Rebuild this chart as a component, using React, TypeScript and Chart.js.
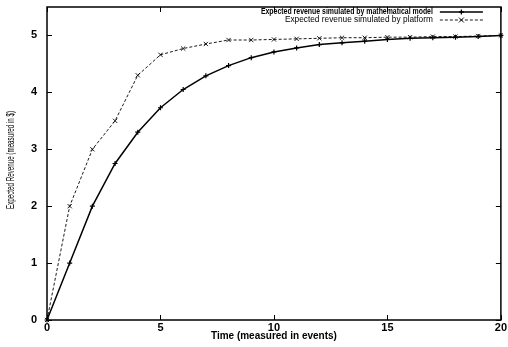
import { useEffect, useRef } from 'react';
import { Chart, registerables } from 'chart.js';

Chart.register(...registerables);

const timeSteps = [0, 1, 2, 3, 4, 5, 6, 7, 8, 9, 10, 11, 12, 13, 14, 15, 16, 17, 18, 19, 20];
const modelRevenue = [0, 1, 2, 2.75, 3.3, 3.73, 4.05, 4.29, 4.47, 4.61, 4.71, 4.78, 4.84, 4.87, 4.9, 4.93, 4.95, 4.96, 4.97, 4.98, 5.0];
const platformRevenue = [0, 2, 3, 3.5, 4.3, 4.66, 4.77, 4.85, 4.92, 4.92, 4.93, 4.94, 4.95, 4.96, 4.96, 4.97, 4.97, 4.98, 4.98, 4.99, 5.0];
const xTicks = [0, 5, 10, 15, 20];
const yTicks = [0, 1, 2, 3, 4, 5];
const seriesLabels = [
  'Expected revenue simulated by mathematical model',
  'Expected revenue simulated by platform',
];
const xTitle = 'Time (measured in events)';
const yTitle = 'Expected Revenue (measured in $)';

const FONT = "'Liberation Sans', Arial, Helvetica, sans-serif";

function fitText(ctx: any, text: string, font: string, xRight: number, y: number, width: number) {
  ctx.save();
  ctx.font = font;
  ctx.textAlign = 'right';
  ctx.textBaseline = 'middle';
  const w = ctx.measureText(text).width;
  ctx.translate(xRight, y);
  ctx.scale(width / w, 1);
  ctx.fillText(text, 0, 0);
  ctx.restore();
}

const framePlugin = {
  id: 'frameTicksLegend',
  afterDraw(chart: any) {
    const { ctx, chartArea } = chart;
    const { left, right, top, bottom } = chartArea;
    const xs = chart.scales.x;
    const ys = chart.scales.y;
    ctx.save();
    ctx.strokeStyle = '#000';
    ctx.lineWidth = 1.5;
    ctx.strokeRect(left, top, right - left, bottom - top);
    ctx.lineWidth = 1;
    const tl = 5;
    ctx.beginPath();
    xTicks.forEach((v) => {
      const px = Math.round(xs.getPixelForValue(v)) + 0.5;
      ctx.moveTo(px, bottom);
      ctx.lineTo(px, bottom - tl);
      ctx.moveTo(px, top);
      ctx.lineTo(px, top + tl);
    });
    yTicks.forEach((v) => {
      const py = Math.round(ys.getPixelForValue(v)) + 0.5;
      ctx.moveTo(left, py);
      ctx.lineTo(left + tl, py);
      ctx.moveTo(right, py);
      ctx.lineTo(right - tl, py);
    });
    ctx.stroke();

    // y-axis title (condensed along its length)
    ctx.save();
    ctx.fillStyle = '#000';
    ctx.font = `10.5px ${FONT}`;
    ctx.textAlign = 'center';
    ctx.textBaseline = 'middle';
    const w = ctx.measureText(yTitle).width;
    ctx.translate(11, 160);
    ctx.rotate(-Math.PI / 2);
    ctx.scale(98 / w, 1);
    ctx.fillText(yTitle, 0, 0);
    ctx.restore();

    // legend
    const textRight = right - 68;
    const sx0 = right - 61;
    const sx1 = right - 18;
    const mid = (sx0 + sx1) / 2;
    const rows = [top + 5, top + 13];
    ctx.fillStyle = '#000';
    fitText(ctx, seriesLabels[0], `bold 8.5px ${FONT}`, textRight, rows[0], 172);
    fitText(ctx, seriesLabels[1], `8.5px ${FONT}`, textRight, rows[1], 148);

    ctx.lineWidth = 1.3;
    ctx.beginPath();
    ctx.moveTo(sx0, rows[0]);
    ctx.lineTo(sx1, rows[0]);
    ctx.stroke();
    ctx.beginPath();
    ctx.moveTo(mid - 2.5, rows[0]);
    ctx.lineTo(mid + 2.5, rows[0]);
    ctx.moveTo(mid, rows[0] - 2.5);
    ctx.lineTo(mid, rows[0] + 2.5);
    ctx.stroke();

    ctx.lineWidth = 0.9;
    ctx.setLineDash([3, 2]);
    ctx.beginPath();
    ctx.moveTo(sx0, rows[1]);
    ctx.lineTo(sx1, rows[1]);
    ctx.stroke();
    ctx.setLineDash([]);
    ctx.beginPath();
    ctx.moveTo(mid - 2.5, rows[1] - 2.5);
    ctx.lineTo(mid + 2.5, rows[1] + 2.5);
    ctx.moveTo(mid - 2.5, rows[1] + 2.5);
    ctx.lineTo(mid + 2.5, rows[1] - 2.5);
    ctx.stroke();
    ctx.restore();
  },
};

export default function App() {
  const ref = useRef<HTMLCanvasElement | null>(null);
  useEffect(() => {
    document.body.style.margin = '0';
    const canvas = ref.current;
    if (!canvas) return;
    const chart = new Chart(canvas, {
      type: 'line',
      data: {
        datasets: [
          {
            label: seriesLabels[0],
            data: timeSteps.map((t, i) => ({ x: t, y: modelRevenue[i] })),
            borderColor: '#000',
            backgroundColor: '#000',
            borderWidth: 1.5,
            pointStyle: 'cross',
            pointRadius: 2.5,
            pointBorderWidth: 1.2,
            pointBorderColor: '#000',
            tension: 0,
            clip: false,
          },
          {
            label: seriesLabels[1],
            data: timeSteps.map((t, i) => ({ x: t, y: platformRevenue[i] })),
            borderColor: '#000',
            backgroundColor: '#000',
            borderWidth: 0.9,
            borderDash: [3, 2],
            pointStyle: 'crossRot',
            pointRadius: 3,
            pointBorderWidth: 0.9,
            pointBorderColor: '#000',
            tension: 0,
            clip: false,
          },
        ],
      },
      options: {
        responsive: false,
        animation: false,
        devicePixelRatio: 1,
        layout: { padding: { top: 0, right: 7, left: 0, bottom: 0 } },
        plugins: { legend: { display: false }, tooltip: { enabled: false } },
        scales: {
          x: {
            type: 'linear',
            min: 0,
            max: 20,
            grid: { display: false, drawTicks: false },
            border: { display: false },
            afterBuildTicks: (s: any) => {
              s.ticks = xTicks.map((v) => ({ value: v }));
            },
            afterFit: (s: any) => {
              s.height = 27;
            },
            ticks: {
              color: '#000',
              padding: 1,
              maxRotation: 0,
              autoSkip: false,
              font: { family: FONT, size: 11, weight: 'bold' },
            },
            title: {
              display: true,
              text: xTitle,
              color: '#000',
              padding: { top: 0, bottom: 5 },
              font: { family: FONT, size: 10, weight: 'bold' },
            },
          },
          y: {
            type: 'linear',
            min: 0,
            max: 5.5,
            grid: { display: false, drawTicks: false },
            border: { display: false },
            afterBuildTicks: (s: any) => {
              s.ticks = yTicks.map((v) => ({ value: v }));
            },
            afterFit: (s: any) => {
              s.width = 47;
              s.paddingTop = 7;
              s.paddingBottom = 0;
            },
            ticks: {
              color: '#000',
              padding: 10,
              autoSkip: false,
              font: { family: FONT, size: 11, weight: 'bold' },
            },
            title: { display: false },
          },
        },
      },
      plugins: [framePlugin],
    } as any);
    return () => chart.destroy();
  }, []);
  return <canvas ref={ref} width={508} height={347} style={{ display: 'block' }} />;
}
